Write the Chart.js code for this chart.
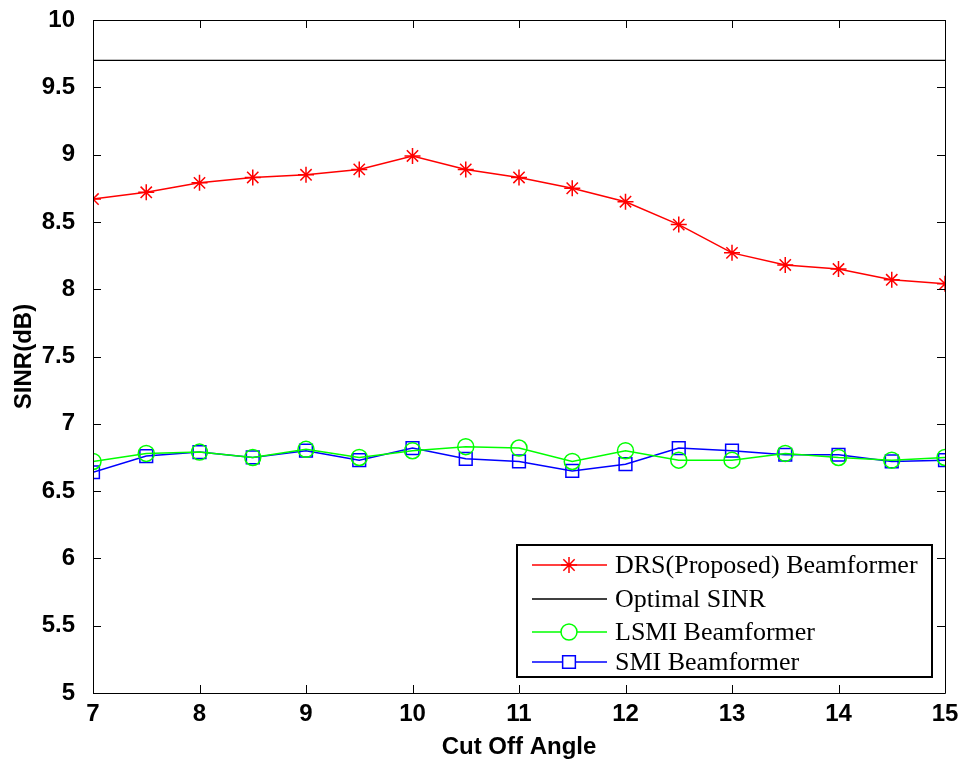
<!DOCTYPE html>
<html>
<head>
<meta charset="utf-8">
<script src="https://cdn.jsdelivr.net/npm/chart.js@4.4.1/dist/chart.umd.min.js"></script>
<style>
  html, body { margin: 0; padding: 0; background: #fff; }
  #wrap { width: 964px; height: 760px; }
</style>
</head>
<body>
<div id="wrap"><canvas id="canvas" width="964" height="760"></canvas></div>
<script>
// cut off angle (x) and SINR in dB per method
const angles = [7, 7.5, 8, 8.5, 9, 9.5, 10, 10.5, 11, 11.5, 12, 12.5, 13, 13.5, 14, 14.5, 15];
const drsSinr = [8.67, 8.72, 8.79, 8.83, 8.85, 8.89, 8.99, 8.89, 8.83, 8.75, 8.65, 8.48, 8.27, 8.18, 8.15, 8.07, 8.04];
const optimalSinr = 9.70;
const lsmiSinr = [6.72, 6.78, 6.79, 6.75, 6.81, 6.75, 6.80, 6.83, 6.82, 6.72, 6.80, 6.73, 6.73, 6.78, 6.75, 6.73, 6.75];
const smiSinr = [6.64, 6.76, 6.79, 6.75, 6.80, 6.73, 6.82, 6.74, 6.72, 6.65, 6.70, 6.82, 6.80, 6.77, 6.77, 6.72, 6.73];
const xTicks = [7, 8, 9, 10, 11, 12, 13, 14, 15];
const yTicks = [5, 5.5, 6, 6.5, 7, 7.5, 8, 8.5, 9, 9.5, 10];

const seriesNames = ["DRS(Proposed) Beamformer", "Optimal SINR", "LSMI Beamformer", "SMI Beamformer"];

function pts(vals) {
  return angles.map((a, i) => ({ x: a, y: vals[i] }));
}

const tickFont = { family: "'Liberation Sans', Arial, sans-serif", size: 24, weight: "bold" };
const titleFont = { family: "'Liberation Sans', Arial, sans-serif", size: 24, weight: "bold" };

// MATLAB style box: inward ticks on all four sides and a legend box inside the axes
const boxPlugin = {
  id: "matlabBox",
  afterDraw(chart) {
    const ctx = chart.ctx;
    const a = chart.chartArea;
    const xs = chart.scales.x, ys = chart.scales.y;
    ctx.save();
    ctx.strokeStyle = "#000";
    ctx.lineWidth = 1;
    ctx.beginPath();
    ctx.rect(Math.round(a.left) + 0.5, Math.round(a.top) + 0.5, Math.round(a.right - a.left), Math.round(a.bottom - a.top));
    ctx.stroke();
    const len = 8;
    ctx.beginPath();
    xTicks.forEach(v => {
      const px = Math.round(xs.getPixelForValue(v)) + 0.5;
      ctx.moveTo(px, a.bottom); ctx.lineTo(px, a.bottom - len);
      ctx.moveTo(px, a.top); ctx.lineTo(px, a.top + len);
    });
    yTicks.forEach(v => {
      const py = Math.round(ys.getPixelForValue(v)) + 0.5;
      ctx.moveTo(a.left, py); ctx.lineTo(a.left + len, py);
      ctx.moveTo(a.right, py); ctx.lineTo(a.right - len, py);
    });
    ctx.stroke();

    // legend
    const lx = 517, ly = 545, lw = 415, lh = 132;
    ctx.fillStyle = "#fff";
    ctx.fillRect(lx, ly, lw, lh);
    ctx.lineWidth = 2;
    ctx.strokeRect(lx, ly, lw, lh);
    const rows = [565, 599, 632, 662];
    ctx.font = "26px 'Liberation Serif', 'Times New Roman', serif";
    ctx.textBaseline = "middle";
    chart.data.datasets.forEach((ds, i) => {
      const y = rows[i];
      ctx.strokeStyle = ds.borderColor;
      ctx.lineWidth = 1.5;
      ctx.beginPath();
      ctx.moveTo(532, y); ctx.lineTo(607, y);
      ctx.stroke();
      if (ds.pointStyle && ds.pointRadius > 0) {
        ctx.fillStyle = "#fff";
        Chart.helpers.drawPoint(ctx, { pointStyle: ds.pointStyle, radius: ds.pointRadius, borderWidth: 1.5 }, 569, y);
      }
      ctx.fillStyle = "#000";
      ctx.fillText(seriesNames[i], 615, y + 1);
    });
    ctx.restore();
  }
};

new Chart(document.getElementById("canvas"), {
  type: "line",
  data: {
    datasets: [
      {
        label: seriesNames[0], data: pts(drsSinr),
        borderColor: "#ff0000", backgroundColor: "rgba(0,0,0,0)",
        borderWidth: 1.5, pointStyle: "star", pointRadius: 8, pointBorderWidth: 1.5
      },
      {
        label: seriesNames[1], data: [{ x: 7, y: optimalSinr }, { x: 15, y: optimalSinr }],
        borderColor: "#000000", backgroundColor: "rgba(0,0,0,0)",
        borderWidth: 1.2, pointRadius: 0
      },
      {
        label: seriesNames[2], data: pts(lsmiSinr),
        borderColor: "#00ff00", backgroundColor: "rgba(0,0,0,0)",
        borderWidth: 1.5, pointStyle: "circle", pointRadius: 8, pointBorderWidth: 1.5
      },
      {
        label: seriesNames[3], data: pts(smiSinr),
        borderColor: "#0000ff", backgroundColor: "rgba(0,0,0,0)",
        borderWidth: 1.5, pointStyle: "rect", pointRadius: 9, pointBorderWidth: 1.5
      }
    ]
  },
  options: {
    responsive: false,
    animation: false,
    events: [],
    layout: { padding: { left: 0, top: 20, right: 19, bottom: 0 } },
    plugins: { legend: { display: false }, tooltip: { enabled: false } },
    scales: {
      x: {
        type: "linear", min: 7, max: 15,
        afterFit(s) { s.height = 67; s.paddingLeft = 0; s.paddingRight = 0; },
        afterBuildTicks(s) { s.ticks = xTicks.map(v => ({ value: v })); },
        grid: { display: false },
        border: { display: false },
        ticks: { color: "#000", font: tickFont, padding: -1, maxRotation: 0, callback: v => String(v) },
        title: { display: true, text: "Cut Off Angle", color: "#000", font: titleFont, padding: { top: 0, bottom: -2 } }
      },
      y: {
        min: 5, max: 10,
        afterFit(s) { s.width = 93; s.paddingTop = 0; s.paddingBottom = 0; },
        afterBuildTicks(s) { s.ticks = yTicks.map(v => ({ value: v })); },
        grid: { display: false },
        border: { display: false },
        ticks: { color: "#000", font: tickFont, padding: 10, callback: v => String(v) },
        title: { display: true, text: "SINR(dB)", color: "#000", font: titleFont, padding: { top: 10, bottom: 0 } }
      }
    }
  },
  plugins: [boxPlugin]
});
</script>
</body>
</html>
